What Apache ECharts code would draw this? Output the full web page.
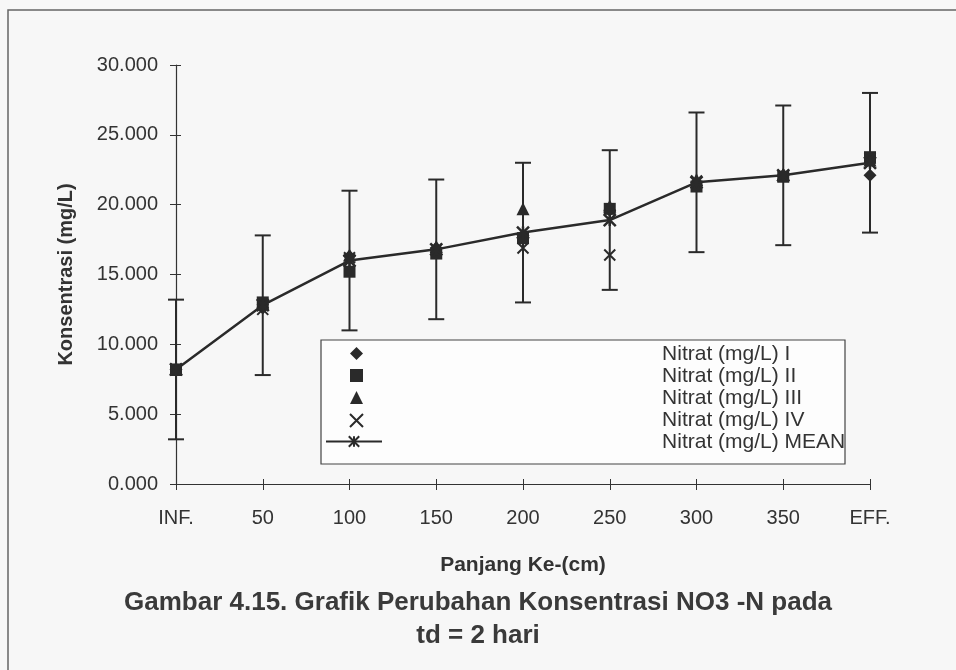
<!DOCTYPE html>
<html>
<head>
<meta charset="utf-8">
<title>Grafik Perubahan Konsentrasi NO3-N</title>
<script src="https://cdn.jsdelivr.net/npm/echarts@6/dist/echarts.min.js"></script>
<style>
    html, body { margin: 0; padding: 0; background: #f7f7f7; }
    #chart { width: 956px; height: 670px; }
</style>
</head>
<body>
<div id="chart"></div>
<script>
// data (mg/L)
var categories = ['INF.', '50', '100', '150', '200', '250', '300', '350', 'EFF.'];
var nitratI   = [8.2, 12.6, 16.3, 16.9, 17.8, 19.6, 21.6, 22.1, 22.1];
var nitratII  = [8.2, 13.0, 15.2, 16.5, 17.6, 19.7, 21.3, 22.0, 23.4];
var nitratIII = [8.2, 12.9, 16.4, 17.0, 19.7, 19.9, 21.8, 22.2, 23.2];
var nitratIV  = [8.2, 12.5, 16.2, 16.8, 16.9, 16.4, 21.7, 22.1, 23.3];
var nitratMean = [8.2, 12.8, 16.0, 16.8, 18.0, 18.9, 21.6, 22.1, 23.0];
var errorAmount = [5, 5, 5, 5, 5, 5, 5, 5, 5];
var yTicks = [0, 5, 10, 15, 20, 25, 30];

var seriesNames = ['Nitrat (mg/L) I', 'Nitrat (mg/L) II', 'Nitrat (mg/L) III', 'Nitrat (mg/L) IV', 'Nitrat (mg/L) MEAN'];

var font = "'Liberation Sans', Arial, sans-serif";
var ink = '#2a2a2a';
var xMark = 'path://M0,0L10,10M10,0L0,10';
var starMark = 'path://M0,0L10,10M10,0L0,10M5,0L5,10';

var chart = echarts.init(document.getElementById('chart'));

var errData = nitratMean.map(function (m, i) {
    return [i, m - errorAmount[i], m + errorAmount[i]];
});

function renderError(params, api) {
    var lo = api.coord([api.value(0), api.value(1)]);
    var hi = api.coord([api.value(0), api.value(2)]);
    var cap = 8;
    var style = { stroke: ink, lineWidth: 2 };
    return {
        type: 'group',
        children: [
            { type: 'line', shape: { x1: lo[0], y1: lo[1], x2: hi[0], y2: hi[1] }, style: style },
            { type: 'line', shape: { x1: lo[0] - cap, y1: lo[1], x2: lo[0] + cap, y2: lo[1] }, style: style },
            { type: 'line', shape: { x1: hi[0] - cap, y1: hi[1], x2: hi[0] + cap, y2: hi[1] }, style: style }
        ]
    };
}

function scatter(name, data, symbol, size, stroked) {
    return {
        name: name,
        type: 'scatter',
        data: data,
        symbol: symbol,
        symbolSize: size,
        z: 4,
        itemStyle: stroked
            ? { color: ink, borderColor: ink, borderWidth: 2, opacity: 1 }
            : { color: ink, opacity: 1 }
    };
}

var titleStyle = { fontSize: 26, fontWeight: 'bold', color: '#3a3a3a', fontFamily: font };

var option = {
    backgroundColor: '#f7f7f7',
    animation: false,
    textStyle: { fontFamily: font },
    title: [
        { text: 'Gambar 4.15. Grafik Perubahan Konsentrasi NO3 -N pada', left: 'center', top: 585, textStyle: titleStyle },
        { text: 'td = 2 hari', left: 'center', top: 618, textStyle: titleStyle }
    ],
    grid: { left: 176, right: 86, top: 65, bottom: 186, containLabel: false, outerBoundsMode: 'none' },
    legend: [
        {
            // marker column for the four single readings
            orient: 'vertical', left: 344, top: 342,
            itemWidth: 13, itemHeight: 13, itemGap: 9,
            formatter: function () { return ''; },
            data: seriesNames.slice(0, 4),
            selectedMode: false
        },
        {
            // line + marker for the mean
            orient: 'vertical', left: 320, top: 430,
            itemWidth: 56, itemHeight: 13,
            formatter: function () { return ''; },
            data: [seriesNames[4]],
            selectedMode: false
        },
        {
            // names column
            orient: 'vertical', left: 645, top: 339,
            itemWidth: 1, itemHeight: 14, itemGap: 1,
            itemStyle: { opacity: 0 }, lineStyle: { opacity: 0 },
            textStyle: { fontSize: 21, color: '#333', fontFamily: font },
            data: seriesNames,
            selectedMode: false
        }
    ],
    graphic: [
        { type: 'rect', z: 3, shape: { x: 321, y: 340, width: 524, height: 124 },
          style: { fill: '#fdfdfd', stroke: '#444', lineWidth: 1.2 } },
        { type: 'rect', z: 0, shape: { x: 8, y: 10, width: 1000, height: 700 },
          style: { fill: 'none', stroke: '#666', lineWidth: 1.5 } }
    ],
    xAxis: [
        {
            type: 'category',
            data: categories,
            boundaryGap: false,
            name: 'Panjang Ke-(cm)',
            nameLocation: 'middle',
            nameGap: 71,
            nameTextStyle: { fontSize: 21, fontWeight: 'bold', color: '#333', fontFamily: font },
            axisLine: { lineStyle: { color: '#333', width: 1.2 } },
            axisTick: { alignWithLabel: true, length: 6, lineStyle: { color: '#333' } },
            axisLabel: { fontSize: 20, color: '#333', margin: 24, fontFamily: font },
            splitLine: { show: false }
        },
        {
            // inner half of the crossing ticks
            type: 'category',
            data: categories,
            boundaryGap: false,
            position: 'bottom',
            axisLine: { show: false },
            axisTick: { inside: true, length: 5, lineStyle: { color: '#333' } },
            axisLabel: { show: false },
            splitLine: { show: false }
        }
    ],
    yAxis: [
        {
            type: 'value',
            min: yTicks[0], max: yTicks[yTicks.length - 1], interval: 5,
            name: 'Konsentrasi (mg/L)',
            nameLocation: 'middle',
            nameGap: 100,
            nameTextStyle: { fontSize: 20, fontWeight: 'bold', color: '#333', fontFamily: font },
            axisLine: { show: true, lineStyle: { color: '#333', width: 1.2 } },
            axisTick: { show: true, length: 6, lineStyle: { color: '#333' } },
            axisLabel: {
                fontSize: 20, color: '#333', margin: 18, fontFamily: font,
                formatter: function (v) { return v.toFixed(3); }
            },
            splitLine: { show: false }
        },
        {
            type: 'value',
            min: yTicks[0], max: yTicks[yTicks.length - 1], interval: 5,
            position: 'left',
            axisLine: { show: false },
            axisTick: { show: true, inside: true, length: 5, lineStyle: { color: '#333' } },
            axisLabel: { show: false },
            splitLine: { show: false }
        }
    ],
    series: [
        {
            name: 'error',
            type: 'custom',
            renderItem: renderError,
            data: errData,
            encode: { x: 0, y: [1, 2] },
            z: 2,
            silent: true
        },
        scatter(seriesNames[0], nitratI, 'diamond', 13, false),
        scatter(seriesNames[1], nitratII, 'rect', 12, false),
        scatter(seriesNames[2], nitratIII, 'triangle', 13, false),
        scatter(seriesNames[3], nitratIV, xMark, 11, true),
        {
            name: seriesNames[4],
            type: 'line',
            data: nitratMean,
            symbol: starMark,
            symbolSize: 12,
            showAllSymbol: true,
            z: 5,
            lineStyle: { color: ink, width: 2.5 },
            itemStyle: { color: ink, borderColor: ink, borderWidth: 2.5 }
        }
    ]
};

chart.setOption(option);
</script>
</body>
</html>
